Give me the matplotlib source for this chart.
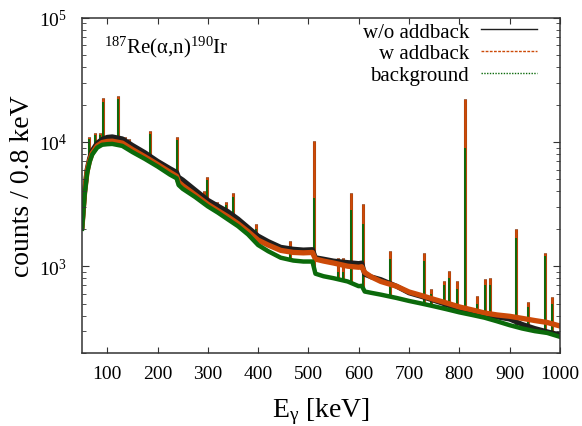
import matplotlib
matplotlib.use("Agg")
import matplotlib.pyplot as plt
from matplotlib.lines import Line2D
from matplotlib.ticker import LogLocator, NullFormatter, FixedLocator

plt.rcParams["font.family"] = ["Liberation Serif", "DejaVu Serif"]
plt.rcParams["mathtext.fontset"] = "custom"
plt.rcParams["mathtext.rm"] = "Liberation Serif"
plt.rcParams["mathtext.it"] = "Liberation Serif:italic"

# continuum levels (keV, counts per 0.8 keV)
energy = [50, 55, 60, 65, 70, 80, 90, 100, 110, 130, 150, 175, 200, 225, 238, 242,
          250, 275, 300, 320, 340, 360, 380, 400, 420, 445, 470, 490, 508, 514,
          530, 550, 578, 600, 606, 612, 625, 644, 675, 700, 725, 750, 775, 800,
          825, 850, 875, 900, 925, 950, 975, 1000]
wo_addback = [2100, 4000, 6000, 7400, 8500, 9800, 10500, 10900, 11000, 10600, 9400,
              8200, 7000, 6100, 5700, 5200, 4950, 4100, 3400, 3050, 2750, 2400, 2050,
              1750, 1580, 1420, 1370, 1350, 1360, 1170, 1140, 1100, 1070, 1050, 1060,
              860, 820, 780, 690, 610, 570, 530, 490, 450, 425, 405, 390, 375, 340,
              315, 296, 280]
w_addback = [2100, 3900, 5800, 7100, 8100, 9300, 9900, 10100, 10150, 9800, 8700,
             7600, 6600, 5700, 5300, 4750, 4450, 3750, 3150, 2800, 2500, 2200, 1900,
             1620, 1480, 1340, 1290, 1280, 1290, 1140, 1100, 1060, 1000, 980, 990,
             890, 820, 753, 690, 620, 580, 540, 505, 470, 445, 420, 405, 395, 380,
             365, 352, 330]
background = [2000, 3700, 5600, 6900, 7900, 9000, 9500, 9600, 9650, 9300, 8300,
              7300, 6350, 5450, 5100, 4500, 4200, 3600, 3030, 2700, 2380, 2100, 1800,
              1480, 1320, 1170, 1110, 1090, 1090, 870, 830, 800, 753, 690, 695,
              625, 610, 590, 555, 525, 500, 475, 450, 425, 405, 385, 360, 335, 315,
              300, 290, 270]

# gamma lines (keV) and peak heights
peak_energy = [63, 76, 85, 92.5, 122, 136, 144, 186, 239, 293, 298.5, 319, 336, 351,
               395, 464, 511, 558, 568, 584, 609, 662, 729, 743, 769, 779, 795, 811.5,
               836, 851, 861, 912, 936, 970, 985]
wo_peaks = [10900, 11800, 11900, 22400, 23300, 10900, 10500, 12200, 10900, 4000, 5200,
            3300, 3300, 3900, 2200, 1590, 10200, 1170, 1170, 3900, 3150, 1320, 1270,
            650, 760, 910, 760, 22100, 580, 785, 810, 1980, 515, 1280, 560]
w_peaks = [10900, 11800, 11900, 22400, 23300, 10900, 10500, 12200, 10900, 4000, 5200,
           3300, 3300, 3900, 2200, 1590, 10200, 1170, 1170, 3900, 3150, 1320, 1270,
           650, 760, 910, 760, 22100, 580, 785, 810, 1980, 515, 1280, 560]
bg_peaks = [10500, 11300, 11400, 21000, 22000, 10000, 9900, 11500, 10400, 3700, 4900,
            3100, 3100, 3600, 2000, 1400, 3550, 900, 900, 2850, 2200, 1150, 1100,
            600, 700, 800, 650, 9000, 500, 700, 700, 1700, 470, 1200, 500]

black = "#1e1e1e"
orange = "#cc4a08"
green = "#0b6a0b"

fig = plt.figure(figsize=(5.82, 4.27), dpi=100)
ax = fig.add_axes([0.141, 0.171, 0.821, 0.785])
ax.set_yscale("log")
ax.set_xlim(50, 1000)
ax.set_ylim(200, 1e5)
ymin = ax.get_ylim()[0]

# peaks
ax.vlines(peak_energy, ymin, wo_peaks, color=black, lw=2.2, zorder=3)
ax.vlines(peak_energy, ymin, w_peaks, color=orange, lw=2.0, zorder=4)
ax.vlines(peak_energy, ymin, bg_peaks, color=green, lw=1.4, zorder=5)
# hide the part of the peak lines below the spectra
ax.fill_between(energy, ymin, background, color="white", lw=0, zorder=5.5)

# continuum
ax.plot(energy, wo_addback, color=black, lw=3.6, zorder=6)
ax.plot(energy, w_addback, color=orange, lw=3.8, zorder=7)
ax.plot(energy, background, color=green, lw=3.2, zorder=8)

handles = [Line2D([], [], color=black, lw=1.0),
           Line2D([], [], color=orange, lw=1.0, ls=(0, (2, 1))),
           Line2D([], [], color=green, lw=1.0, ls=(0, (1, 1)))]
leg = ax.legend(handles, ["w/o addback", "w addback", "background"],
                loc="upper right", bbox_to_anchor=(0.96, 1.0), borderaxespad=0,
                markerfirst=False, fontsize=15, handlelength=2.65,
                handletextpad=0.6, labelspacing=0.1, borderpad=0.2,
                frameon=True, fancybox=False, framealpha=1, edgecolor="none")
leg.set_zorder(20)

ax.text(0.045, 0.898, r"$^{\mathregular{187}}$Re(α,n)$^{\mathregular{190}}$Ir",
        transform=ax.transAxes, fontsize=15, va="baseline", ha="left", zorder=21)

ax.xaxis.set_major_locator(FixedLocator([100, 200, 300, 400, 500, 600, 700, 800, 900, 1000]))
ax.yaxis.set_major_locator(LogLocator(base=10, numticks=10))
ax.yaxis.set_minor_locator(LogLocator(base=10, subs=range(2, 10), numticks=20))
ax.yaxis.set_minor_formatter(NullFormatter())
ax.tick_params(which="both", direction="in", top=True, right=True,
               labelsize=14, color="#333333")
ax.tick_params(axis="x", which="major", length=4, pad=9)
ax.tick_params(axis="y", which="major", length=5, pad=11)
ax.tick_params(which="minor", length=3)
ax.xaxis.set_zorder(30)
ax.yaxis.set_zorder(30)
for s in ax.spines.values():
    s.set_linewidth(1.1)
    s.set_color("#333333")
    s.set_zorder(30)

ax.set_xlabel(r"E$_{\mathregular{γ}}$ [keV]", fontsize=20)
ax.set_ylabel("counts / 0.8 keV", fontsize=20)
ax.xaxis.set_label_coords(0.5, -0.125)
ax.yaxis.set_label_coords(-0.098, 0.5)

fig.savefig("out.png", dpi=100)
